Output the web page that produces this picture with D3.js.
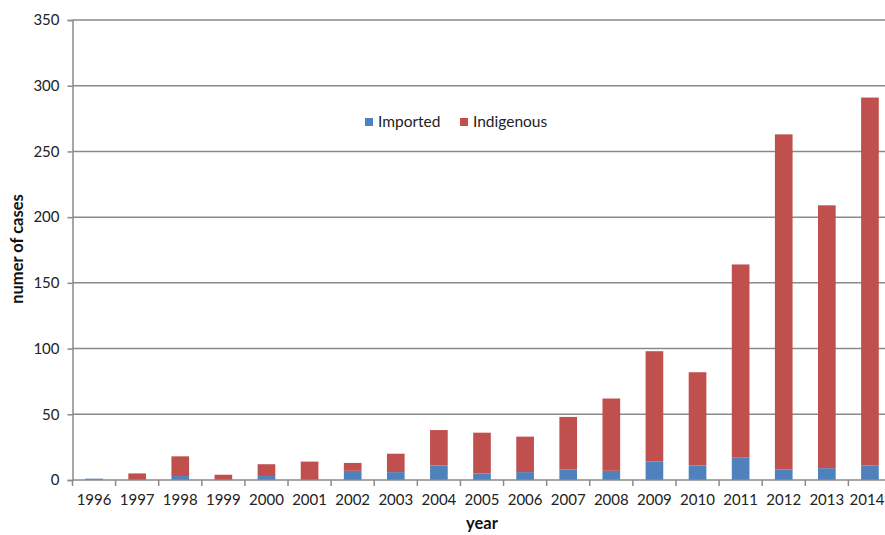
<!DOCTYPE html>
<html><head><meta charset="utf-8">
<script src="https://cdn.jsdelivr.net/npm/d3@7"></script>
<style>body{margin:0;background:#fff;} svg{display:block;}</style>
</head><body>
<script>
const years = ["1996","1997","1998","1999","2000","2001","2002","2003","2004","2005","2006","2007","2008","2009","2010","2011","2012","2013","2014"];
const imported   = [1, 0, 3, 0, 3, 0, 7, 6, 11, 5, 6, 8, 7, 14, 11, 17, 8, 9, 11];
const indigenous = [0, 5, 15, 4, 9, 14, 6, 14, 27, 31, 27, 40, 55, 84, 71, 147, 255, 200, 280];
const seriesNames = ["Imported", "Indigenous"];
const seriesColors = ["#4F81BD", "#C0504D"];
const yTicks = [0, 50, 100, 150, 200, 250, 300, 350];

const W = 885, H = 535;
const font = "Lato, 'Open Sans', sans-serif";
const svg = d3.select("body").append("svg").attr("width", W).attr("height", H);

const x = d3.scaleBand().domain(years).range([72.5, 891.5]).paddingInner(0.59).paddingOuter(0.295);
const y = d3.scaleLinear().domain([0, 350]).range([480, 20]);

// gridlines
svg.append("g").selectAll("line").data(yTicks.filter(d => d > 0)).join("line")
  .attr("x1", 72.5).attr("x2", W).attr("y1", d => y(d)).attr("y2", d => y(d))
  .attr("stroke", "#8a8a8a").attr("stroke-width", 1.5);

const table = years.map((yr, i) => ({year: yr, Imported: imported[i], Indigenous: indigenous[i]}));
const stack = d3.stack().keys(seriesNames)(table);

svg.append("g").selectAll("g").data(stack).join("g")
  .attr("fill", (d, i) => seriesColors[i])
  .selectAll("rect").data(d => d).join("rect")
  .attr("x", d => x(d.data.year))
  .attr("width", x.bandwidth())
  .attr("y", d => y(d[1]))
  .attr("height", d => Math.max(0, y(d[0]) - y(d[1])));

// y axis
const yAxis = svg.append("g").attr("transform", "translate(72.5,0)")
  .call(d3.axisLeft(y).tickValues(yTicks).tickSize(5).tickPadding(8));
yAxis.select(".domain").attr("stroke", "#8a8a8a").attr("stroke-width", 1.5);
yAxis.selectAll(".tick line").attr("stroke", "#8a8a8a").attr("stroke-width", 1.5);
yAxis.selectAll("text").attr("font-family", font).attr("font-size", 15).attr("fill", "#222");

// x axis
const xb = d3.scaleLinear().domain([0, years.length]).range([72.5, 891.5]);
const xAxisG = svg.append("g").attr("transform", "translate(0,480)");
xAxisG.append("line").attr("x1", 72.5).attr("x2", W).attr("stroke", "#8a8a8a").attr("stroke-width", 1.5);
xAxisG.selectAll(".tk").data(d3.range(years.length + 1)).join("line").attr("class", "tk")
  .attr("x1", d => xb(d)).attr("x2", d => xb(d)).attr("y1", 0).attr("y2", 6)
  .attr("stroke", "#8a8a8a").attr("stroke-width", 1.5);
xAxisG.selectAll("text").data(years).join("text")
  .attr("x", d => Math.min(x(d) + x.bandwidth() / 2, W - 18))
  .attr("y", 25)
  .attr("text-anchor", "middle").attr("font-family", font).attr("font-size", 15).attr("fill", "#222")
  .text(d => d);

// axis titles
svg.append("text").attr("transform", "translate(23,249) rotate(-90)")
  .attr("text-anchor", "middle").attr("font-family", font).attr("font-weight", "bold")
  .attr("font-size", 16.5).attr("fill", "#111").text("numer of cases");
svg.append("text").attr("x", 482).attr("y", 529)
  .attr("text-anchor", "middle").attr("font-family", font).attr("font-weight", "bold")
  .attr("font-size", 16.5).attr("fill", "#111").text("year");

// legend
const legendX = [365, 460];
const lg = svg.append("g").selectAll("g").data(seriesNames).join("g")
  .attr("transform", (d, i) => `translate(${legendX[i]},118)`);
lg.append("rect").attr("width", 8).attr("height", 8).attr("fill", (d, i) => seriesColors[i]);
lg.append("text").attr("x", 13).attr("y", 9).attr("font-family", font).attr("font-size", 15.5)
  .attr("fill", "#222").text(d => d);
</script>
</body></html>
